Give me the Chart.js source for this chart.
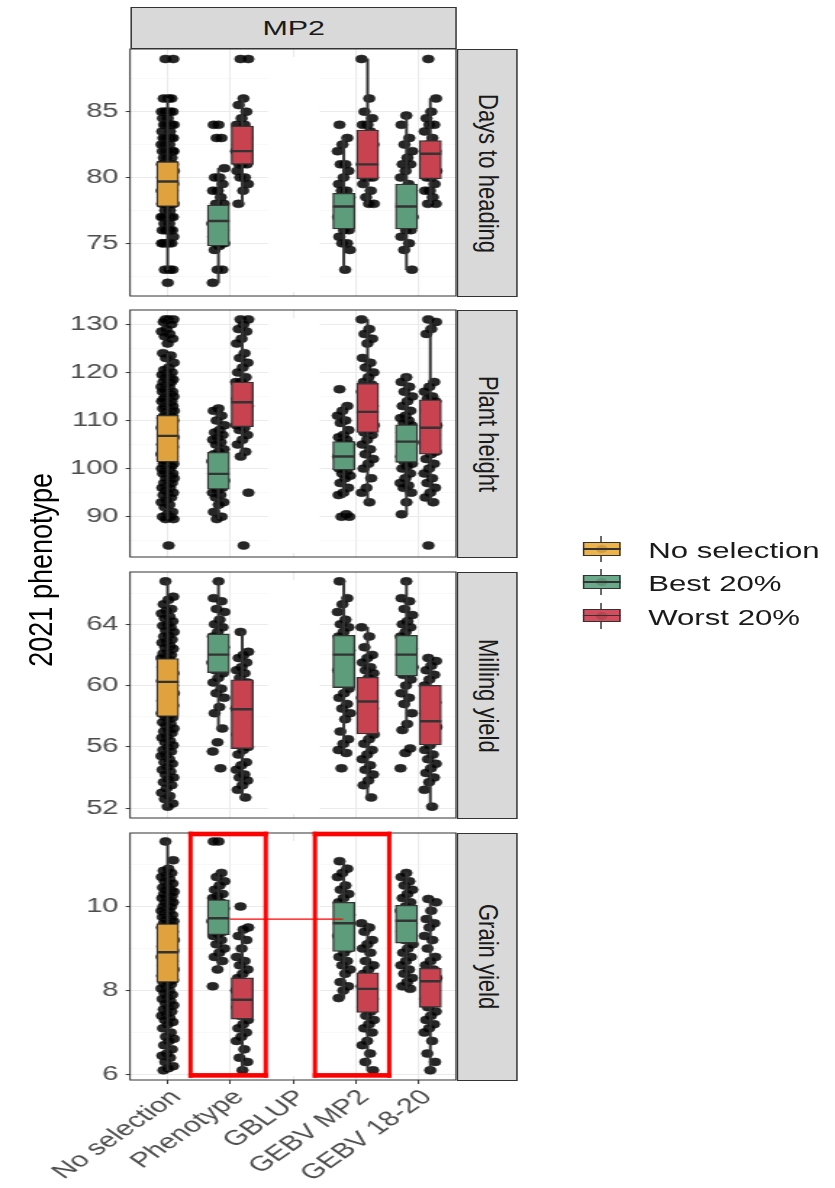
<!DOCTYPE html>
<html><head><meta charset="utf-8">
<script src="https://cdn.jsdelivr.net/npm/chart.js@4.4.1/dist/chart.umd.min.js"></script>
<style>
html,body{margin:0;padding:0;background:#fff;}
body{width:835px;height:1188px;overflow:hidden;position:relative;font-family:"Liberation Sans",Arial,sans-serif;}
#wrap{position:absolute;left:0;top:0;width:576px;height:1188px;transform:scaleX(1.45);transform-origin:0 0;}
.strip{position:absolute;background:#d9d9d9;border:1px solid #333;box-sizing:border-box;color:#1a1a1a;font-size:21px;display:flex;align-items:center;justify-content:center;}
.strip.r span{writing-mode:vertical-rl;transform:scaleX(0.85);white-space:nowrap;font-size:22px;}
#ytitle{position:absolute;left:0;width:56px;top:370px;height:400px;display:flex;align-items:center;justify-content:center;}
#ytitle span{writing-mode:vertical-rl;transform:rotate(180deg) scaleX(0.85);font-size:27px;color:#000;white-space:nowrap;}
.lk{position:absolute;left:401.6px;width:26px;height:26px;}
.lk .wh{position:absolute;left:12.35px;width:1.3px;top:0;height:26px;background:#333;}
.lk .bx{position:absolute;left:0;top:6.3px;width:26px;height:13.4px;box-sizing:border-box;border:1.3px solid #333;}
.lk .md{position:absolute;left:0;top:12.2px;width:26px;height:1.6px;background:#333;}
.lk .dt{position:absolute;left:9px;top:9px;width:8px;height:8px;border-radius:50%;background:rgba(0,0,0,0.12);}
.lt{position:absolute;left:447px;font-size:21.5px;color:#1a1a1a;line-height:26px;white-space:nowrap;}
</style>
</head><body>
<div id="wrap"></div>
<script>
// ---------------- categories / groups ----------------
const categories = ['No selection', 'Phenotype', 'GBLUP', 'GEBV MP2', 'GEBV 18-20'];
const groups = ['No selection', 'Best 20%', 'Worst 20%'];
const panelNames = ['Days to heading', 'Plant height', 'Milling yield', 'Grain yield'];
const stripTop = 'MP2';
const yTitle = '2021 phenotype';

// ---------------- tick labels ----------------
const dthMajor = [75, 80, 85];            const dthMinor = [72.5, 77.5, 82.5, 87.5];
const phMajor = [90, 100, 110, 120, 130]; const phMinor = [85, 95, 105, 115, 125];
const myMajor = [52, 56, 60, 64];         const myMinor = [54, 58, 62, 66];
const gyMajor = [6, 8, 10];               const gyMinor = [7, 9, 11];

// ---------------- box statistics: [category(1-5), group, lowWhisker, q1, median, q3, highWhisker] ----------------
const dth_box = [
  [1, 0, 73, 77.8, 79.7, 81.2, 86],
  [2, 1, 72, 74.8, 76.7, 77.9, 80.7],
  [2, 2, 78, 81.0, 82.0, 83.9, 86],
  [4, 1, 73, 76.1, 77.8, 78.8, 83],
  [4, 2, 78, 79.9, 81.0, 83.6, 89],
  [5, 1, 73, 76.1, 77.8, 79.5, 84.7],
  [5, 2, 78, 79.9, 81.8, 82.8, 86]
];
const ph_box = [
  [1, 0, 89.5, 101.4, 106.8, 111.1, 124],
  [2, 1, 89.5, 95.7, 98.9, 103.4, 112.5],
  [2, 2, 102.5, 108.7, 113.8, 118.0, 131],
  [4, 1, 94, 99.7, 102.5, 105.6, 113],
  [4, 2, 93, 107.5, 111.8, 117.7, 131],
  [5, 1, 90.5, 101.3, 105.6, 109.1, 119.3],
  [5, 2, 93, 103.0, 108.5, 114.3, 131]
];
const my_box = [
  [1, 0, 52.1, 57.98, 60.24, 61.76, 66.8],
  [2, 1, 57.2, 60.85, 62.02, 63.37, 66.8],
  [2, 2, 52.7, 55.89, 58.46, 60.37, 63.5],
  [4, 1, 55.6, 59.87, 62.02, 63.28, 66.8],
  [4, 2, 52.7, 56.85, 58.96, 60.54, 63.8],
  [5, 1, 57.1, 60.63, 62.02, 63.28, 66.8],
  [5, 2, 52.1, 56.13, 57.67, 60.02, 61.85]
];
const gy_box = [
  [1, 0, 6.1, 8.20, 8.91, 9.59, 11.55],
  [2, 1, 8.5, 9.33, 9.72, 10.16, 10.8],
  [2, 2, 6.1, 7.32, 7.78, 8.30, 9.45],
  [4, 1, 7.82, 8.93, 9.60, 10.10, 11.08],
  [4, 2, 6.1, 7.48, 8.04, 8.42, 9.6],
  [5, 1, 8.04, 9.13, 9.66, 10.03, 10.8],
  [5, 2, 6.1, 7.60, 8.22, 8.53, 10.18]
];

// ---------------- individual phenotypes (points) ----------------
const dth_noSel = [89, 89, 86, 86, 86, 85, 85, 85, 85, 85, 84.5, 84.5, 84, 84, 84, 84, 84, 84, 84, 83.5, 83.5, 83, 83, 83, 83, 83, 83, 82.5, 82.5, 82.5, 82, 82, 82, 82, 82, 82, 82, 81.5, 81.5, 81.5, 81, 81, 81, 81, 81, 81, 80.5, 80.5, 80.5, 80, 80, 80, 80, 80, 80, 80, 79.5, 79.5, 79.5, 79, 79, 79, 79, 79, 79, 78.5, 78.5, 78.5, 78, 78, 78, 78, 78, 78, 78, 77.5, 77.5, 77, 77, 77, 77, 77, 77, 76.5, 76.5, 76, 76, 76, 76, 76, 75.5, 75, 75, 75, 75, 75, 73, 73, 73, 72];
const dth_phenoBest = [84, 84, 83, 83, 80.7, 80, 80, 79.5, 79, 79, 78.5, 78, 78, 77.5, 77, 77, 77, 76.5, 76.5, 76, 76, 76, 75.5, 75, 75, 75, 74.8, 74.5, 73, 73, 72];
const dth_phenoWorst = [89, 89, 86, 85.5, 85, 84.5, 84, 84, 83.5, 83, 83, 82.5, 82, 82, 82, 81.5, 81, 81, 81, 80.5, 80, 80, 79.5, 79, 78];
const dth_mp2Best = [84, 83, 82.5, 82, 81, 81, 80.5, 80, 79.5, 79, 79, 78.5, 78, 78, 78, 77.5, 77, 77, 76.5, 76, 76, 75.5, 75, 75, 74.5, 73];
const dth_mp2Worst = [89, 86, 85, 84.5, 84, 84, 83.5, 83, 82.5, 82, 81.5, 81, 81, 81, 80.5, 80, 80, 80, 79.5, 79, 78.5, 78, 78];
const dth_1820Best = [84.7, 84, 83, 82.5, 82, 81.5, 81, 81, 80.5, 80, 79.5, 79, 79, 78.5, 78, 78, 77.5, 77, 77, 76.5, 76, 76, 75.5, 75, 74.5, 73];
const dth_1820Worst = [89, 86, 85, 84.5, 84, 84, 83.5, 83, 82.5, 82, 82, 81.5, 81, 81, 80.5, 80, 80, 79.5, 79, 79, 78.5, 78, 78];

const ph_noSel = [131, 131, 131, 130.5, 130, 129, 128.5, 128, 127.5, 127, 126, 124, 123.5, 123, 122, 121, 120.5, 120, 120, 119.5, 119, 119, 118.5, 118, 118, 118, 117.5, 117, 117, 116.5, 116, 116, 116, 115.5, 115, 115, 115, 114.5, 114, 114, 114, 113.5, 113, 113, 113, 112.5, 112, 112, 112, 111.5, 111, 111, 111, 110.5, 110, 110, 110, 109.5, 109, 109, 109, 108.5, 108, 108, 108, 107.5, 107, 107, 107, 106.5, 106, 106, 106, 105.5, 105, 105, 105, 104.5, 104, 104, 104, 103.5, 103, 103, 103, 102.5, 102, 102, 102, 101.5, 101, 101, 101, 100.5, 100, 100, 100, 99.5, 99, 99, 99, 98.5, 98, 98, 97.5, 97, 97, 96.5, 96, 96, 95.5, 95, 95, 94.5, 94, 93.5, 93, 92.5, 92, 91, 90.5, 90, 90, 89.5, 89.5, 84];
const ph_phenoBest = [112.5, 112, 111, 110, 109, 108, 107.5, 107, 106.5, 106, 105.5, 105, 104, 103.5, 103, 102.5, 102, 101.5, 101, 100.5, 100, 99.5, 99, 98.5, 98, 97.5, 97, 96.5, 96, 95.5, 95, 94.5, 94, 93, 92.5, 91, 90, 89.5];
const ph_phenoWorst = [131, 131, 130, 129, 128.5, 127, 126, 124, 123, 122, 121, 120, 119, 118, 118, 117.5, 117, 116, 115, 114.5, 114, 113.5, 113, 112, 111, 110.5, 110, 109, 108.5, 108, 107, 106, 105, 103.5, 102.5, 95, 84];
const ph_mp2Best = [116.5, 113, 112, 111, 110, 109.5, 108, 107, 106.5, 106, 105.5, 105, 104.5, 104, 103.5, 103, 102.5, 102, 101.5, 101, 100.5, 100, 99.5, 99, 98.5, 98, 97, 96, 95, 94.5, 90.5, 90, 90];
const ph_mp2Worst = [131, 129, 128, 127, 126, 123, 122, 121, 120, 119, 118, 117.5, 117, 116, 115, 114, 113, 112, 111.5, 111, 110, 109, 108, 107.5, 107, 106, 105, 104, 103, 102, 101, 100, 98, 96, 95, 93];
const ph_1820Best = [119, 118, 117, 116, 115, 114, 113, 112, 111, 110.5, 110, 109.5, 109, 108, 107.5, 107, 106, 105.5, 105, 104.5, 104, 103, 102.5, 102, 101.5, 101, 100.5, 100, 99, 98, 97, 96.5, 96, 95, 93, 90.5];
const ph_1820Worst = [131, 130.5, 129, 128, 118, 117, 116, 115, 114.5, 114, 113, 112, 111, 110, 109, 108.5, 108, 107, 106, 105, 104.5, 104, 103.5, 103, 102, 101, 100, 99, 98, 97, 96, 95, 94, 93, 84];

const my_noSel = [66.8, 65.8, 65.6, 65.3, 65, 64.9, 64.7, 64.5, 64.4, 64.2, 64, 63.9, 63.8, 63.6, 63.5, 63.3, 63.2, 63, 62.9, 62.8, 62.6, 62.5, 62.4, 62.2, 62.1, 62, 61.9, 61.8, 61.7, 61.5, 61.4, 61.3, 61.2, 61, 60.9, 60.8, 60.7, 60.6, 60.5, 60.4, 60.3, 60.2, 60.1, 60, 59.9, 59.8, 59.7, 59.6, 59.5, 59.4, 59.3, 59.2, 59.1, 59, 58.9, 58.8, 58.7, 58.6, 58.5, 58.4, 58.3, 58.2, 58.1, 58, 57.9, 57.8, 57.6, 57.5, 57.4, 57.2, 57.1, 57, 56.9, 56.7, 56.6, 56.4, 56.3, 56.1, 56, 55.8, 55.7, 55.5, 55.4, 55.2, 55, 54.9, 54.7, 54.5, 54.4, 54.2, 54, 53.9, 53.7, 53.5, 53.3, 53, 52.8, 52.6, 52.3, 52.1];
const my_phenoBest = [66.8, 65.7, 65.5, 65, 64.8, 64.3, 64, 63.8, 63.5, 63.2, 63, 62.8, 62.5, 62.2, 62, 62, 61.8, 61.5, 61.2, 61, 60.8, 60.5, 60.2, 59.8, 59.5, 59.2, 58.6, 58.2, 57.2, 56.3, 55.7, 54.6];
const my_phenoWorst = [63.5, 62.2, 62, 61.8, 61.5, 61.2, 61, 60.8, 60.5, 60.2, 60, 59.6, 59.2, 58.8, 58.5, 58.2, 57.8, 57.5, 57.2, 56.8, 56.5, 56.2, 56, 55.8, 55.5, 55, 54.8, 54.5, 54.2, 54, 53.8, 53.5, 53.2, 52.7];
const my_mp2Best = [66.8, 65.7, 65.3, 64.8, 64.3, 64, 63.8, 63.5, 63.2, 63, 62.7, 62.3, 62, 62, 61.8, 61.5, 61, 60.5, 60.2, 59.8, 59.5, 59.2, 58.8, 58.5, 58.2, 57.8, 57, 56.5, 56.2, 55.8, 55.6, 54.6];
const my_mp2Worst = [63.8, 63.2, 62.5, 62, 61.8, 61.5, 61.2, 61, 60.8, 60.5, 60.2, 59.8, 59.5, 59.2, 59, 58.8, 58.5, 58.2, 57.8, 57.5, 57.2, 56.8, 56.5, 56.2, 55.8, 55.5, 55.2, 54.8, 54.5, 54.2, 53.8, 53.5, 52.7];
const my_1820Best = [66.8, 65.7, 65.5, 65, 64.6, 64.2, 64, 63.8, 63.5, 63.2, 63, 62.7, 62.4, 62.1, 62, 61.8, 61.5, 61.2, 61, 60.7, 60.4, 60, 59.5, 59.2, 58.8, 58.2, 57.5, 57.1, 55.9, 55.6, 54.6];
const my_1820Worst = [61.8, 61.6, 61.3, 61, 60.7, 60.4, 60, 59.6, 59.2, 58.9, 58.6, 58.2, 57.9, 57.6, 57.3, 57, 56.7, 56.4, 56.1, 55.8, 55.5, 55.2, 54.9, 54.6, 54.3, 54, 53.7, 53.2, 52.1];

const gy_noSel = [11.55, 11.1, 10.9, 10.85, 10.8, 10.75, 10.7, 10.65, 10.6, 10.55, 10.5, 10.45, 10.4, 10.4, 10.35, 10.3, 10.3, 10.25, 10.2, 10.2, 10.15, 10.1, 10.1, 10.05, 10, 10, 9.95, 9.9, 9.9, 9.85, 9.8, 9.8, 9.75, 9.7, 9.7, 9.65, 9.6, 9.6, 9.55, 9.5, 9.5, 9.45, 9.4, 9.4, 9.35, 9.3, 9.3, 9.25, 9.2, 9.2, 9.15, 9.1, 9.1, 9.05, 9, 9, 8.95, 8.9, 8.9, 8.85, 8.8, 8.8, 8.75, 8.7, 8.7, 8.65, 8.6, 8.6, 8.55, 8.5, 8.5, 8.45, 8.4, 8.4, 8.35, 8.3, 8.3, 8.25, 8.2, 8.2, 8.15, 8.1, 8.05, 8, 7.95, 7.9, 7.85, 7.8, 7.75, 7.7, 7.65, 7.6, 7.55, 7.5, 7.45, 7.4, 7.35, 7.3, 7.25, 7.2, 7.1, 7, 6.9, 6.85, 6.8, 6.7, 6.6, 6.5, 6.45, 6.4, 6.3, 6.2, 6.15, 6.1];
const gy_phenoBest = [11.55, 11.55, 10.8, 10.7, 10.6, 10.5, 10.4, 10.3, 10.25, 10.2, 10.1, 10, 9.95, 9.9, 9.8, 9.75, 9.7, 9.65, 9.6, 9.5, 9.4, 9.35, 9.3, 9.2, 9.1, 9, 8.9, 8.8, 8.7, 8.5, 8.1];
const gy_phenoWorst = [10, 9.5, 9.45, 9.3, 9.2, 9, 8.8, 8.7, 8.6, 8.5, 8.4, 8.3, 8.2, 8.1, 8, 7.9, 7.8, 7.75, 7.7, 7.6, 7.5, 7.4, 7.3, 7.2, 7.1, 7, 6.9, 6.8, 6.6, 6.4, 6.3, 6.1];
const gy_mp2Best = [11.08, 10.9, 10.8, 10.7, 10.5, 10.4, 10.3, 10.2, 10.1, 10, 9.9, 9.8, 9.7, 9.6, 9.5, 9.4, 9.3, 9.2, 9.1, 9, 8.9, 8.8, 8.7, 8.6, 8.5, 8.4, 8.2, 8.1, 8, 7.82];
const gy_mp2Worst = [9.6, 9.5, 9.4, 9.2, 9.1, 9, 8.9, 8.7, 8.6, 8.5, 8.4, 8.3, 8.2, 8.1, 8, 7.9, 7.8, 7.7, 7.6, 7.5, 7.4, 7.3, 7.2, 7.1, 7, 6.8, 6.7, 6.5, 6.3, 6.1];
const gy_1820Best = [10.8, 10.7, 10.6, 10.5, 10.4, 10.3, 10.2, 10.1, 10, 9.9, 9.8, 9.7, 9.6, 9.5, 9.4, 9.3, 9.2, 9.1, 9, 8.9, 8.8, 8.7, 8.6, 8.5, 8.4, 8.3, 8.2, 8.1, 8.04];
const gy_1820Worst = [10.18, 10.1, 9.9, 9.7, 9.6, 9.5, 9.3, 9.2, 9, 8.8, 8.7, 8.6, 8.5, 8.4, 8.3, 8.2, 8.1, 8, 7.9, 7.8, 7.7, 7.6, 7.5, 7.4, 7.3, 7.2, 7.1, 7, 6.8, 6.5, 6.3, 6.1];

// [category, group, values]
const dthSets = [[1, 0, dth_noSel], [2, 1, dth_phenoBest], [2, 2, dth_phenoWorst], [4, 1, dth_mp2Best], [4, 2, dth_mp2Worst], [5, 1, dth_1820Best], [5, 2, dth_1820Worst]];
const phSets  = [[1, 0, ph_noSel], [2, 1, ph_phenoBest], [2, 2, ph_phenoWorst], [4, 1, ph_mp2Best], [4, 2, ph_mp2Worst], [5, 1, ph_1820Best], [5, 2, ph_1820Worst]];
const mySets  = [[1, 0, my_noSel], [2, 1, my_phenoBest], [2, 2, my_phenoWorst], [4, 1, my_mp2Best], [4, 2, my_mp2Worst], [5, 1, my_1820Best], [5, 2, my_1820Worst]];
const gySets  = [[1, 0, gy_noSel], [2, 1, gy_phenoBest], [2, 2, gy_phenoWorst], [4, 1, gy_mp2Best], [4, 2, gy_mp2Worst], [5, 1, gy_1820Best], [5, 2, gy_1820Worst]];

// annotations in data units (grain yield panel): [xFrom, xTo, yFrom, yTo]
const highlightBoxes = [[1.365, 2.565, 5.98, 11.726], [3.35, 4.534, 5.98, 11.726]];
const highlightLine = [1.995, 3.797, 9.70];

// ---------------- styles ----------------
const groupColors = ['#E0A23C', '#5D9D7C', '#C84250'];
const legendColors = ['#EDB44C', '#6AA98A', '#D44D5E'];
const dodge = [0, -0.19, 0.19];
const PL = 89.66, PR = 314.48;
const FONT = '"Liberation Sans", Arial, sans-serif';
Chart.defaults.font.family = FONT;

const wrap = document.getElementById('wrap');
const near = (arr, v) => arr.some(a => Math.abs(a - v) < 1e-6);
const jit = i => (((i * 0.6180339887) % 1) - 0.5) * 0.2;

const deco = {
  id: 'deco',
  beforeDatasetsDraw(chart, args, o) {
    const { ctx, chartArea: a, scales: { x } } = chart;
    ctx.save();
    ctx.fillStyle = '#fff';
    const x1 = x.getPixelForValue(o.patch[0]), x2 = x.getPixelForValue(o.patch[1]);
    ctx.fillRect(x1, a.top + 8, x2 - x1, a.bottom - a.top - 12);
    ctx.restore();
  },
  afterDatasetsDraw(chart, args, o) {
    const { ctx, chartArea: a, scales: { x, y } } = chart;
    ctx.save();
    ctx.strokeStyle = '#333';
    ctx.lineWidth = 1;
    ctx.strokeRect(a.left, a.top, a.right - a.left, a.bottom - a.top);
    if (o.highlight) {
      ctx.fillStyle = '#FF0000';
      const hw = 1.5, hh = 2.3;
      o.highlight.boxes.forEach(b => {
        const x1 = x.getPixelForValue(b[0]), x2 = x.getPixelForValue(b[1]);
        const y1 = y.getPixelForValue(b[3]), y2 = y.getPixelForValue(b[2]);
        ctx.fillRect(x1 - hw, y1 - hh, x2 - x1 + 2 * hw, 2 * hh);
        ctx.fillRect(x1 - hw, y2 - hh, x2 - x1 + 2 * hw, 2 * hh);
        ctx.fillRect(x1 - hw, y1 - hh, 2 * hw, y2 - y1 + 2 * hh);
        ctx.fillRect(x2 - hw, y1 - hh, 2 * hw, y2 - y1 + 2 * hh);
      });
      const l = o.highlight.line;
      ctx.strokeStyle = '#FF0000';
      ctx.lineWidth = 1.4;
      ctx.beginPath();
      ctx.moveTo(x.getPixelForValue(l[0]), y.getPixelForValue(l[2]));
      ctx.lineTo(x.getPixelForValue(l[1]), y.getPixelForValue(l[2]));
      ctx.stroke();
    }
    ctx.restore();
  }
};

const panels = [
  { top: 49, bottom: 296, min: 71.0, max: 89.76, major: dthMajor, minor: dthMinor, sets: dthSets, boxes: dth_box },
  { top: 310, bottom: 557, min: 81.62, max: 132.97, major: phMajor, minor: phMinor, sets: phSets, boxes: ph_box },
  { top: 572, bottom: 818, min: 51.36, max: 67.41, major: myMajor, minor: myMinor, sets: mySets, boxes: my_box },
  { top: 833, bottom: 1080, min: 5.87, max: 11.75, major: gyMajor, minor: gyMinor, sets: gySets, boxes: gy_box, showX: true,
    highlight: { boxes: highlightBoxes, line: highlightLine } }
];

panels.forEach((p, idx) => {
  const padTop = 20, xh = p.showX ? 108 : 20, W = 345;
  const H = (p.bottom - p.top) + padTop + xh;
  const cv = document.createElement('canvas');
  cv.width = W; cv.height = H;
  cv.style.cssText = `position:absolute;left:0;top:${p.top - padTop}px;width:${W}px;height:${H}px;`;
  wrap.appendChild(cv);

  const datasets = [];
  p.sets.forEach(([c, g, vals]) => {
    datasets.push({
      type: 'scatter', order: 4,
      data: vals.map((v, i) => ({ x: c + dodge[g] + jit(i + c * 7 + g * 3), y: v })),
      pointRadius: 4, pointBackgroundColor: 'rgba(0,0,0,0.85)', pointBorderWidth: 0.6, pointBorderColor: 'rgba(30,30,30,0.9)'
    });
  });
  datasets.push({
    type: 'bar', order: 3, grouped: false, barThickness: 1.3,
    data: p.boxes.map(b => ({ x: b[0] + dodge[b[1]], y: [b[2], b[6]] })),
    backgroundColor: '#333', borderWidth: 0
  });
  [0, 1, 2].forEach(g => {
    datasets.push({
      type: 'bar', order: 2, grouped: false, barThickness: 15.2,
      label: groups[g],
      data: p.boxes.filter(b => b[1] === g).map(b => ({ x: b[0] + dodge[g], y: [b[3], b[5]] })),
      backgroundColor: groupColors[g], borderColor: '#333', borderWidth: 1.3, borderSkipped: false
    });
  });
  datasets.push({
    type: 'scatter', order: 1,
    data: p.boxes.map(b => ({ x: b[0] + dodge[b[1]], y: b[4] })),
    pointStyle: 'line', pointRadius: 7.6, pointBorderColor: '#333', pointBorderWidth: 2.4, pointBackgroundColor: '#333'
  });

  const allTicks = p.minor.concat(p.major).sort((a, b) => a - b);
  new Chart(cv, {
    type: 'scatter',
    data: { datasets },
    plugins: [deco],
    options: {
      responsive: false, animation: false, events: [],
      layout: { padding: { top: padTop, left: 0, right: W - PR, bottom: 0 } },
      plugins: {
        legend: { display: false }, tooltip: { enabled: false },
        deco: { patch: [2.6, 3.43], highlight: p.highlight || null }
      },
      scales: {
        x: {
          type: 'linear', min: 0.4, max: 5.6, offset: false,
          afterBuildTicks: s => { s.ticks = [1, 2, 3, 4, 5].map(v => ({ value: v })); },
          afterFit: s => { s.height = xh; },
          border: { display: false },
          grid: { color: '#EBEBEB', lineWidth: 1.1, offset: false, drawTicks: !!p.showX, tickLength: 4, tickColor: '#333', tickWidth: 1 },
          ticks: {
            display: !!p.showX, autoSkip: false, minRotation: 45, maxRotation: 45, padding: 1, labelOffset: 6,
            color: '#4D4D4D', font: { family: FONT, size: 21 },
            callback: v => categories[Math.round(v) - 1] || ''
          }
        },
        y: {
          type: 'linear', min: p.min, max: p.max,
          afterBuildTicks: s => { s.ticks = allTicks.map(v => ({ value: v })); },
          afterFit: s => { s.width = PL; },
          border: { display: false },
          grid: {
            color: c => (c.tick && near(p.major, c.tick.value)) ? '#EBEBEB' : '#F3F3F3',
            lineWidth: c => (c.tick && near(p.major, c.tick.value)) ? 1.1 : 0.6,
            tickLength: 3,
            tickColor: c => (c.tick && near(p.major, c.tick.value)) ? '#333' : 'rgba(0,0,0,0)',
            tickWidth: 1
          },
          ticks: {
            autoSkip: false, padding: 5, color: '#4D4D4D', font: { family: FONT, size: 20 },
            callback: v => near(p.major, v) ? String(v) : ''
          }
        }
      }
    }
  });

  const st = document.createElement('div');
  st.className = 'strip r';
  st.style.cssText = `left:315.3px;width:42px;top:${p.top}px;height:${p.bottom - p.top + 1}px;`;
  st.innerHTML = `<span>${panelNames[idx]}</span>`;
  wrap.appendChild(st);
});

// top strip
const ts = document.createElement('div');
ts.className = 'strip';
ts.style.cssText = `left:${PL}px;width:${PR - PL + 1}px;top:7px;height:42px;`;
ts.textContent = stripTop;
wrap.appendChild(ts);

// y title
const yt = document.createElement('div');
yt.id = 'ytitle';
yt.innerHTML = `<span>${yTitle}</span>`;
wrap.appendChild(yt);

// legend
const keyCenters = [549, 582, 615.5];
groups.forEach((g, i) => {
  const k = document.createElement('div');
  k.className = 'lk';
  k.style.top = (keyCenters[i] - 13) + 'px';
  k.innerHTML = `<div class="wh"></div><div class="bx" style="background:${legendColors[i]}"></div><div class="dt"></div><div class="md"></div>`;
  wrap.appendChild(k);
  const t = document.createElement('div');
  t.className = 'lt';
  t.style.top = (keyCenters[i] + 2 - 13) + 'px';
  t.textContent = g;
  wrap.appendChild(t);
});
</script>
</body></html>
